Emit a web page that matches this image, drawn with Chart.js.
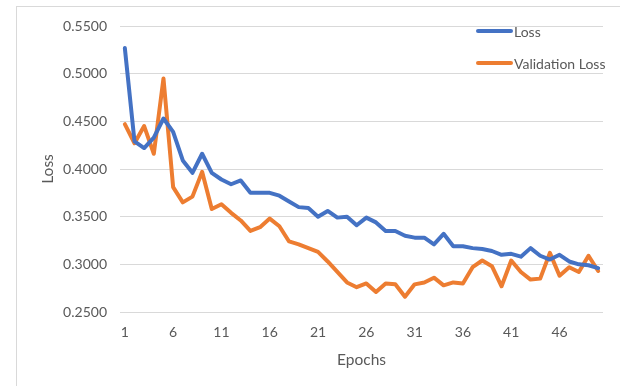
<!DOCTYPE html>
<html>
<head>
<meta charset="utf-8">
<script src="https://cdn.jsdelivr.net/npm/chart.js@4/dist/chart.umd.min.js"></script>
<style>
  html, body { margin: 0; padding: 0; background: #ffffff; }
  body { width: 620px; height: 386px; position: relative; overflow: hidden; }
  #frame { position: absolute; left: 16px; top: 6px; width: 700px; height: 500px; border: 1px solid #d9d9d9; box-sizing: border-box; }
  #wrap { position: absolute; left: 0; top: 0; width: 620px; height: 386px; }
</style>
</head>
<body>
<div id="frame"></div>
<div id="wrap"><canvas id="chart" width="620" height="386"></canvas></div>
<script>
// Training history: one value per epoch
const epochs = Array.from({ length: 50 }, (_, i) => String(i + 1));

const loss = [
  0.527, 0.429, 0.422, 0.433, 0.453, 0.439, 0.409, 0.396, 0.416, 0.396,
  0.389, 0.384, 0.388, 0.375, 0.375, 0.375, 0.372, 0.366, 0.360, 0.359,
  0.350, 0.356, 0.349, 0.350, 0.341, 0.349, 0.344, 0.335, 0.335, 0.330,
  0.328, 0.328, 0.321, 0.332, 0.319, 0.319, 0.317, 0.316, 0.314, 0.310,
  0.311, 0.308, 0.317, 0.309, 0.305, 0.310, 0.303, 0.300, 0.299, 0.296
];

const valLoss = [
  0.447, 0.427, 0.445, 0.416, 0.495, 0.381, 0.365, 0.371, 0.397, 0.358,
  0.363, 0.354, 0.346, 0.335, 0.339, 0.348, 0.340, 0.324, 0.321, 0.317,
  0.313, 0.303, 0.292, 0.281, 0.276, 0.280, 0.271, 0.280, 0.279, 0.266,
  0.279, 0.281, 0.286, 0.278, 0.281, 0.280, 0.297, 0.304, 0.298, 0.277,
  0.304, 0.292, 0.284, 0.285, 0.312, 0.288, 0.297, 0.292, 0.309, 0.293
];

const seriesNames = ['Loss', 'Validation Loss'];
const seriesColors = ['#4472C4', '#ED7D31'];

const FONT = 'Lato, "Open Sans", sans-serif';
const TEXT = '#595959';

// Legend drawn inside the top-right of the plot
const insideLegend = {
  id: 'insideLegend',
  afterDraw(chart) {
    const ctx = chart.ctx;
    const rows = [31, 63];
    ctx.save();
    chart.data.datasets.forEach((ds, i) => {
      const y = rows[i];
      ctx.strokeStyle = ds.borderColor;
      ctx.lineWidth = 4;
      ctx.lineCap = 'round';
      ctx.beginPath();
      ctx.moveTo(478, y);
      ctx.lineTo(511, y);
      ctx.stroke();
      ctx.fillStyle = TEXT;
      ctx.font = '14px ' + FONT;
      ctx.textAlign = 'left';
      ctx.textBaseline = 'middle';
      ctx.fillText(ds.label, 514, y + 1);
    });
    ctx.restore();
  }
};

const lineStyle = {
  borderWidth: 4,
  pointRadius: 0,
  pointHoverRadius: 0,
  tension: 0,
  fill: false,
  borderJoinStyle: 'round',
  borderCapStyle: 'round'
};

new Chart(document.getElementById('chart'), {
  type: 'line',
  data: {
    labels: epochs,
    datasets: [
      Object.assign({ label: seriesNames[0], data: loss, borderColor: seriesColors[0], backgroundColor: seriesColors[0] }, lineStyle),
      Object.assign({ label: seriesNames[1], data: valLoss, borderColor: seriesColors[1], backgroundColor: seriesColors[1] }, lineStyle)
    ]
  },
  options: {
    responsive: false,
    animation: false,
    devicePixelRatio: 1,
    layout: { padding: { top: 26, right: 17, bottom: 0, left: 0 } },
    plugins: {
      legend: { display: false },
      tooltip: { enabled: false }
    },
    scales: {
      x: {
        offset: true,
        grid: { display: false, drawTicks: false },
        border: { display: false },
        ticks: {
          autoSkip: false,
          maxRotation: 0,
          padding: 12,
          color: TEXT,
          font: { family: FONT, size: 14 },
          callback: function (value, index) {
            return index % 5 === 0 ? this.getLabelForValue(value) : '';
          }
        },
        title: {
          display: true,
          text: 'Epochs',
          color: TEXT,
          font: { family: FONT, size: 15.5 },
          padding: { top: 0, bottom: 17 }
        },
        afterFit(scale) { scale.height = 74; }
      },
      y: {
        min: 0.25,
        max: 0.55,
        grid: { color: '#d9d9d9', lineWidth: 1, drawTicks: false },
        border: { display: false },
        ticks: {
          stepSize: 0.05,
          padding: 13,
          color: TEXT,
          font: { family: FONT, size: 14 },
          callback: (v) => Number(v).toFixed(4)
        },
        title: {
          display: true,
          text: 'Loss',
          color: TEXT,
          font: { family: FONT, size: 15.5 },
          padding: { top: 39, bottom: 0 }
        },
        afterFit(scale) { scale.width = 120; }
      }
    }
  },
  plugins: [insideLegend]
});
</script>
</body>
</html>
